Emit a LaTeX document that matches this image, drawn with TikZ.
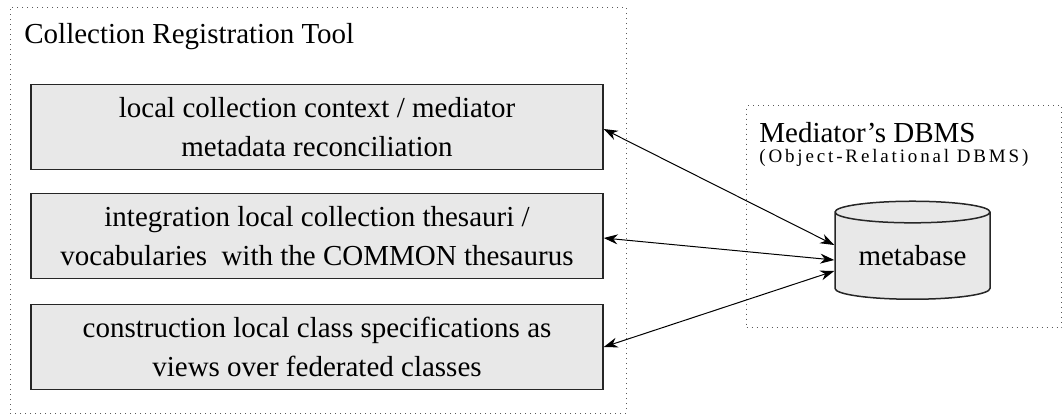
\documentclass[tikz,border=0pt]{standalone}
\usepackage{fontspec}
\newfontfamily\diagfont{Liberation Serif}
\usetikzlibrary{arrows.meta, shapes.geometric, positioning}

\begin{document}
\begin{tikzpicture}[x=0.5pt, y=-0.5pt,
    frame/.style={draw=black!65, dotted, line width=0.5pt, anchor=north west, inner sep=0pt},
    task/.style={draw=black!85, fill=black!9, line width=0.75pt, minimum width=286pt,
                 minimum height=42.5pt, inner sep=0pt, align=center,
                 font=\diagfont\fontsize{14.5}{19.5}\selectfont},
    title/.style={anchor=base west, inner sep=0pt, font=\diagfont\fontsize{14.5}{17}\selectfont},
    link/.style={{Stealth[length=7pt, width=5pt]}-{Stealth[length=7pt, width=5pt]}, line width=0.5pt}]
    \useasboundingbox (0,0) rectangle (1062,414);

    % containers
    \node[frame, minimum width=308pt, minimum height=203pt] (tool) at (9.5,6.5) {};
    \node[frame, minimum width=157.5pt, minimum height=111pt] (dbms) at (746,105) {};
    \node[title] (tooltitle) at (24,43) {Collection Registration Tool};
    \node[title] (dbmstitle) at (759,142) {Mediator’s DBMS};
    \node[title, font=\diagfont\fontsize{9.5}{11}\selectfont\addfontfeatures{LetterSpace=15}] (dbmssub) at (759,162) {(Object-Relational DBMS)};

    % tasks of the registration tool
    \node[task] (context)  at (317,127) {local collection context / mediator\\metadata reconciliation};
    \node[task] (thesauri) at (317,236) {integration local collection thesauri /\\vocabularies~ with the COMMON thesaurus};
    \node[task] (classes)  at (317,347) {construction local class specifications as\\views over federated classes};

    % metabase
    \node[cylinder, shape border rotate=90, draw=black!85, fill=black!9, line width=0.75pt,
          minimum width=77.5pt, minimum height=49pt, aspect=0.2, inner sep=0pt,
          font=\diagfont\fontsize{14.5}{17}\selectfont] (meta) at (912.5,256) {metabase};

    \path[link] ([yshift=-1pt]context.east)  edge ([yshift=5.5pt]meta.west);
    \path[link] ([yshift=-1pt]thesauri.east) edge ([yshift=-2pt]meta.west);
    \path[link] (classes.east)               edge ([yshift=-7.5pt]meta.west);
\end{tikzpicture}
\end{document}
